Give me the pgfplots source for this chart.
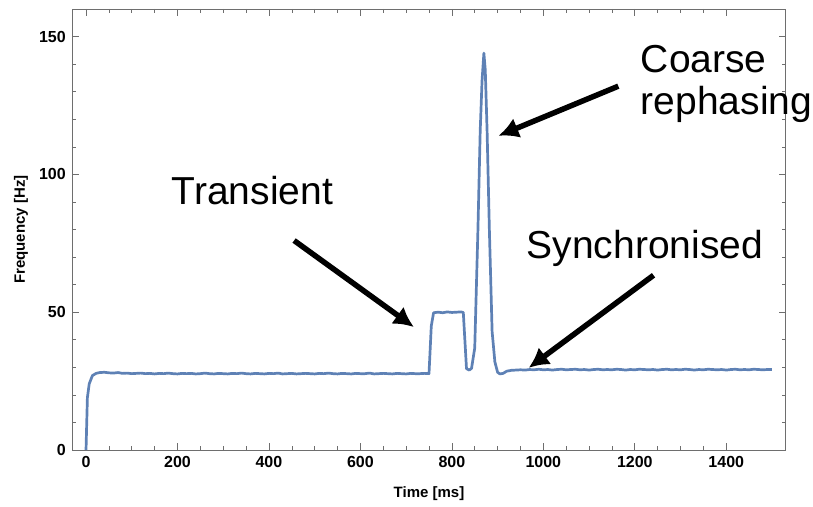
\documentclass[border=0pt]{standalone}
\usepackage{pgfplots}
\pgfplotsset{compat=1.18}
\usepackage{fontspec}
\setmainfont{Liberation Sans}
\usetikzlibrary{arrows.meta}
\definecolor{mblue}{RGB}{94,129,181}
\definecolor{framec}{RGB}{110,110,110}
\begin{document}
\begin{tikzpicture}
\useasboundingbox (-72.3pt,-56pt) rectangle (740.7pt,450pt);
\begin{axis}[
  scale only axis,
  width=713.4pt, height=441pt,
  xmin=-30, xmax=1530, ymin=0, ymax=160,
  xtick={0,200,...,1400}, ytick={0,50,100,150},
  minor x tick num=3, minor y tick num=4,
  major tick length=7pt, minor tick length=4pt,
  tick align=inside,
  axis line style={framec, line width=0.8pt},
  every tick/.style={framec, line width=0.6pt},
  every minor tick/.style={framec, line width=0.6pt},
  /pgf/number format/assume math mode=true,
  /pgf/number format/1000 sep={},
  ticklabel style={font=\bfseries\fontsize{16}{16}\selectfont},
  xticklabel style={yshift=-3pt},
  yticklabel style={xshift=-3pt},
  xlabel={Time [ms]}, ylabel={Frequency [Hz]},
  label style={font=\bfseries\fontsize{15}{15}\selectfont},
  xlabel style={at={(axis description cs:0.5,-0.1)}, anchor=center},
  ylabel style={at={(axis description cs:-0.072,0.5)}, anchor=center, rotate=0},
  clip=false,
]
\addplot[mblue, line width=2.7pt, line join=round] coordinates {
(0,0) (3,19) (7,24) (14,27) (22,27.8) (30,28.1) (40,28.2) (50,28.0) (60,27.9) (70,28.1) (80,27.8) (90,27.9)
(100,27.7) (110,27.8) (120,27.9) (130,27.7) (140,27.8) (150,27.6) (160,27.8) (170,27.7) (180,27.9) (190,27.7)
(200,27.6) (210,27.8) (220,27.7) (230,27.8) (240,27.6) (250,27.7) (260,27.9) (270,27.7) (280,27.6) (290,27.8)
(300,27.7) (310,27.6) (320,27.8) (330,27.7) (340,27.9) (350,27.7) (360,27.6) (370,27.8) (380,27.7) (390,27.6)
(400,27.8) (410,27.7) (420,27.9) (430,27.6) (440,27.7) (450,27.8) (460,27.6) (470,27.7) (480,27.8) (490,27.7)
(500,27.6) (510,27.8) (520,27.7) (530,27.9) (540,27.7) (550,27.6) (560,27.8) (570,27.7) (580,27.6) (590,27.8)
(600,27.7) (610,27.7) (620,27.9) (630,27.6) (640,27.7) (650,27.8) (660,27.7) (670,27.6) (680,27.8) (690,27.7)
(700,27.6) (710,27.8) (720,27.7) (730,27.7) (740,27.8) (750,27.7)
(755,45) (760,49.8) (770,50.0) (780,49.8) (790,50.1) (800,49.9) (810,50.0) (820,50.1) (825,49.9)
(832,29.5) (838,29.0) (843,29.6) (850,37) (857,80) (862,116) (866,134) (870,144) (873,138) (877,116)
(882,80) (888,43) (894,32) (900,28.2) (905,27.6) (912,27.8) (920,28.6) (930,28.9) (940,29.0) (950,29.1)
(960,29.0) (970,29.2) (980,29.1) (990,29.3) (1000,29.1) (1010,29.2) (1020,29.0) (1030,29.2) (1040,29.3)
(1050,29.1) (1060,29.2) (1070,29.3) (1080,29.1) (1090,29.2) (1100,29.0) (1110,29.2) (1120,29.3) (1130,29.1)
(1140,29.2) (1150,29.1) (1160,29.3) (1170,29.2) (1180,29.0) (1190,29.2) (1200,29.1) (1210,29.3) (1220,29.2)
(1230,29.1) (1240,29.2) (1250,29.0) (1260,29.2) (1270,29.3) (1280,29.1) (1290,29.2) (1300,29.1) (1310,29.3)
(1320,29.2) (1330,29.0) (1340,29.2) (1350,29.1) (1360,29.3) (1370,29.2) (1380,29.1) (1390,29.2) (1400,29.0)
(1410,29.2) (1420,29.3) (1430,29.1) (1440,29.2) (1450,29.1) (1460,29.3) (1470,29.2) (1480,29.1) (1490,29.2) (1500,29.2)
};
\draw[black, line width=5.5pt, -{Latex[length=20pt,width=21pt]}] (axis cs:455,76) -- (axis cs:717,44.6);
\draw[black, line width=5.5pt, -{Latex[length=20pt,width=21pt]}] (axis cs:1164,132) -- (axis cs:902,114);
\draw[black, line width=5.5pt, -{Latex[length=20pt,width=21pt]}] (axis cs:1241,63.4) -- (axis cs:968,29.8);
\node[font=\fontsize{39}{39}\selectfont] at (axis cs:364,94) {Transient};
\node[font=\fontsize{39}{39}\selectfont, anchor=west, inner sep=0pt] at (axis cs:1213,142) {Coarse};
\node[font=\fontsize{39}{39}\selectfont, anchor=west, inner sep=0pt] at (axis cs:1213,125.5) {rephasing};
\node[font=\fontsize{39}{39}\selectfont] at (axis cs:1222,73) {Synchronised};
\end{axis}
\end{tikzpicture}
\end{document}
